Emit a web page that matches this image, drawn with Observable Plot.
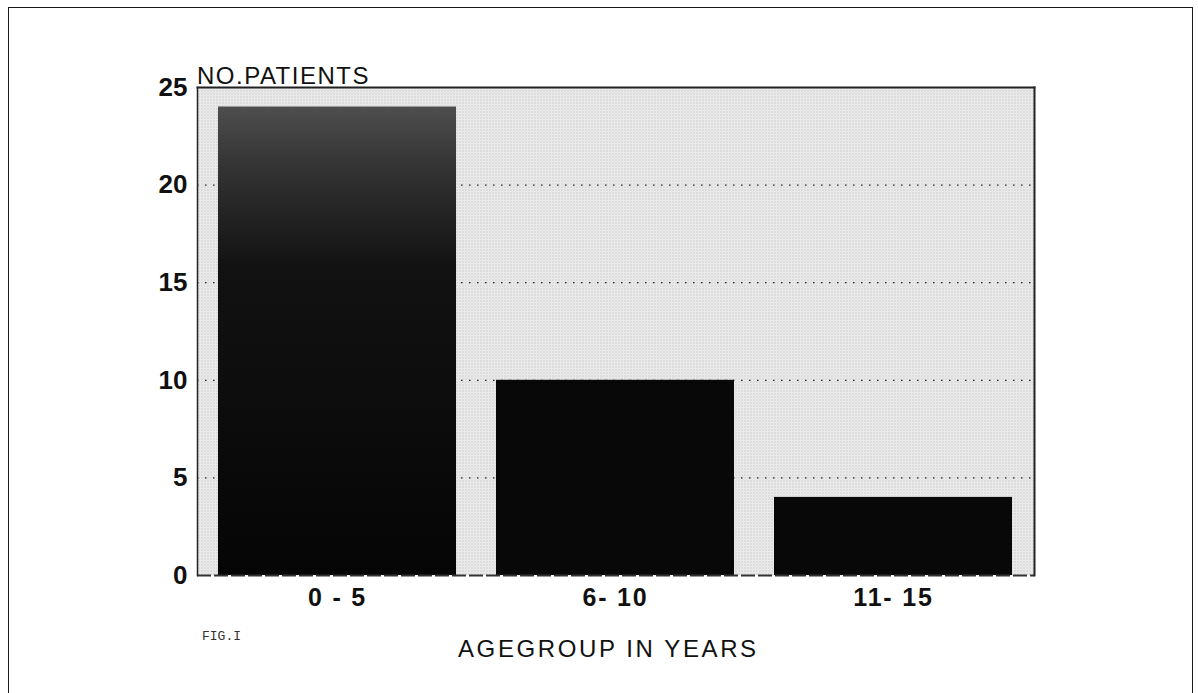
<!DOCTYPE html>
<html>
<head>
<meta charset="utf-8">
<script src="https://cdn.jsdelivr.net/npm/d3@7"></script>
<script src="https://cdn.jsdelivr.net/npm/@observablehq/plot@0.6"></script>
<style>
  html, body { margin: 0; padding: 0; background: #fff; }
  #wrap { position: relative; width: 1198px; height: 693px; overflow: hidden; }
  #border { position: absolute; left: 8px; top: 7px; width: 1185px; height: 700px; border: 1.5px solid #1a1a1a; box-sizing: border-box; pointer-events: none; }
  #chart { position: absolute; left: 0; top: 0; }
  .lbl { position: absolute; font-family: "Liberation Sans", Arial, Helvetica, sans-serif; color: #111; white-space: nowrap; line-height: 1; }
  #chart g[aria-label="x-axis tick label"] text { letter-spacing: 1.8px; }
</style>
</head>
<body>
<div id="wrap">
  <div id="chart"></div>
  <div id="border"></div>
  <div class="lbl" style="left:197px; top:64px; font-size:24px; letter-spacing:1.5px;">NO.PATIENTS</div>
  <div class="lbl" style="left:458px; top:637px; font-size:24px; letter-spacing:2.6px;">AGEGROUP IN YEARS</div>
  <div class="lbl" style="left:202px; top:630px; font-size:13px; font-family:'Liberation Mono','DejaVu Sans Mono',monospace; color:#333;">FIG.I</div>
</div>
<script>
const ageGroups = ["0 - 5", "6- 10", "11- 15"];
const patients = [24, 10, 4];
const yTicks = [0, 5, 10, 15, 20, 25];
const gridTicks = [5, 10, 15, 20];

const data = ageGroups.map((g, i) => ({group: g, value: patients[i]}));

const chart = Plot.plot({
  width: 1198,
  height: 693,
  marginLeft: 197,
  marginRight: 164,
  marginTop: 87,
  marginBottom: 118,
  style: {fontFamily: "'Liberation Sans', Arial, Helvetica, sans-serif", background: "transparent", overflow: "visible"},
  x: {domain: ageGroups, paddingInner: 0.143, paddingOuter: 0.0717, label: null},
  y: {domain: [0, 25], label: null},
  marks: [
    Plot.frame({fill: "url(#dotbg)", stroke: "none"}),
    Plot.ruleY(gridTicks, {stroke: "#222", strokeWidth: 1.2, strokeDasharray: "1.5,6.5"}),
    Plot.barY(data, {
      x: "group", y: "value",
      fill: d => d.group === ageGroups[0] ? "url(#bar1grad)" : "#080808"
    }),
    Plot.axisY(yTicks, {tickSize: 0, tickPadding: 10, fontSize: 26, fontWeight: "bold", fill: "#111"}),
    Plot.axisX({tickSize: 0, tickPadding: 13, fontSize: 25, fontWeight: "bold", fill: "#111"}),
    Plot.ruleY([0], {stroke: "#333", strokeWidth: 2, strokeDasharray: "14,3"}),
    Plot.frame({anchor: "left", stroke: "#222", strokeWidth: 1.5}),
    Plot.frame({anchor: "top", stroke: "#222", strokeWidth: 2}),
    Plot.frame({anchor: "right", stroke: "#222", strokeWidth: 2})
  ]
});

const ns = "http://www.w3.org/2000/svg";
const defs = document.createElementNS(ns, "defs");
defs.innerHTML = `
  <pattern id="dotbg" width="3" height="3" patternUnits="userSpaceOnUse">
    <rect width="3" height="3" fill="#f1f1f1"/>
    <rect x="0" y="0" width="1" height="1" fill="#a8a8a8"/>
    <rect x="1.5" y="1.5" width="1" height="1" fill="#c4c4c4"/>
  </pattern>
  <linearGradient id="bar1grad" x1="0" y1="0" x2="0" y2="1">
    <stop offset="0" stop-color="#4e4e4e"/>
    <stop offset="0.12" stop-color="#353535"/>
    <stop offset="0.34" stop-color="#121212"/>
    <stop offset="1" stop-color="#050505"/>
  </linearGradient>`;
chart.insertBefore(defs, chart.firstChild);
document.getElementById("chart").appendChild(chart);
</script>
</body>
</html>
